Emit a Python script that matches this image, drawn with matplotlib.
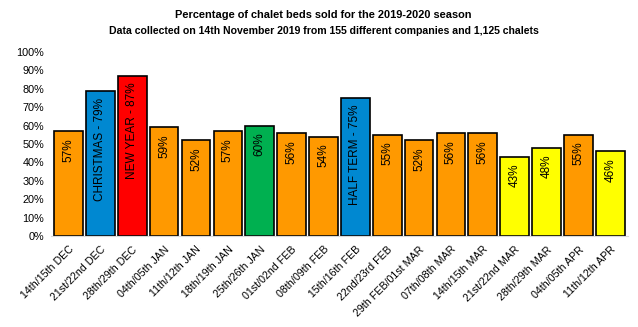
import matplotlib.pyplot as plt
import numpy as np

weeks = ['14th/15th DEC', '21st/22nd DEC', '28th/29th DEC', '04th/05th JAN',
         '11th/12th JAN', '18th/19th JAN', '25th/26th JAN', '01st/02nd FEB',
         '08th/09th FEB', '15th/16th FEB', '22nd/23rd FEB', '29th FEB/01st MAR',
         '07th/08th MAR', '14th/15th MAR', '21st/22nd MAR', '28th/29th MAR',
         '04th/05th APR', '11th/12th APR']
sold = [57, 79, 87, 59, 52, 57, 60, 56, 54, 75, 55, 52, 56, 56, 43, 48, 55, 46]
special = {1: 'CHRISTMAS', 2: 'NEW YEAR', 9: 'HALF TERM'}
colours = ['#ff9900', '#0088d1', '#ff0000', '#ff9900', '#ff9900', '#ff9900',
           '#00b050', '#ff9900', '#ff9900', '#0088d1', '#ff9900', '#ff9900',
           '#ff9900', '#ff9900', '#ffff00', '#ffff00', '#ff9900', '#ffff00']

plt.rcParams['font.family'] = ['Liberation Sans', 'DejaVu Sans']

fig = plt.figure(figsize=(6.38, 3.27), dpi=100)
ax = fig.add_axes([0.08, 0.278, 0.904, 0.563])

x = np.arange(len(weeks))
bars = ax.bar(x, sold, width=0.9, color=colours, edgecolor='black', linewidth=1.2)

for i, b in enumerate(bars):
    txt = f'{sold[i]}%'
    if i in special:
        txt = f'{special[i]} - {sold[i]}%'
    ax.annotate(txt, (b.get_x() + b.get_width() / 2, b.get_height()),
                xytext=(0, -5), textcoords='offset points',
                rotation=90, ha='center', va='top', fontsize=8.5)

ax.set_xlim(-0.55, len(weeks) - 0.45)
ax.set_ylim(0, 100)
ax.set_yticks(range(0, 101, 10))
ax.set_yticklabels([f'{v}%' for v in range(0, 101, 10)], fontsize=7.8)
ax.set_xticks(x)
ax.set_xticklabels(weeks, rotation=45, ha='right', rotation_mode='anchor', fontsize=7.7)
ax.tick_params(length=0)
ax.tick_params(axis='x', pad=6)
ax.tick_params(axis='y', pad=5)
for s in ['top', 'right', 'left']:
    ax.spines[s].set_visible(False)
ax.spines['bottom'].set_color('#d9d9d9')

fig.text(0.507, 0.955, 'Percentage of chalet beds sold for the 2019-2020 season',
         ha='center', va='center', fontsize=7.9, fontweight='bold')
fig.text(0.507, 0.905, 'Data collected on 14th November 2019 from 155 different companies and 1,125 chalets',
         ha='center', va='center', fontsize=7.6, fontweight='bold')

fig.savefig('out.png', dpi=100)
